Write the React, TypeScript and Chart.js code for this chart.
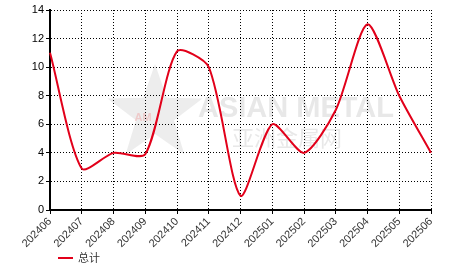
import React, { useEffect, useRef } from 'react';
import { Chart, registerables } from 'chart.js';

Chart.register(...registerables);

const categories = ['202406', '202407', '202408', '202409', '202410', '202411', '202412', '202501', '202502', '202503', '202504', '202505', '202506'];
const totals = [11, 2.9, 4, 3.9, 11.1, 10, 1, 6, 4, 7, 13, 8, 4];
const seriesName = '总计';
const yMin = 0;
const yMax = 14;
const yStep = 2;
const watermarkEn = 'ASIAN METAL';
const watermarkZh = '亚洲金属网';

const RED = 'rgb(226,0,26)';
const FONT = "'Liberation Sans', Arial, sans-serif";

const watermarkPlugin = {
  id: 'watermark',
  beforeDraw(chart: any) {
    const ctx = chart.ctx;
    ctx.save();
    const cx = 155, cy = 114, R = 50, r = 20;
    ctx.beginPath();
    for (let i = 0; i < 10; i++) {
      const ang = -Math.PI / 2 + (i * Math.PI) / 5;
      const rad = i % 2 === 0 ? R : r;
      const px = cx + rad * Math.cos(ang);
      const py = cy + rad * Math.sin(ang);
      if (i === 0) ctx.moveTo(px, py); else ctx.lineTo(px, py);
    }
    ctx.closePath();
    ctx.fillStyle = 'rgba(215,215,215,0.45)';
    ctx.fill();
    ctx.fillStyle = 'rgba(240,150,150,0.4)';
    ctx.font = `bold 11px ${FONT}`;
    ctx.textAlign = 'center';
    ctx.textBaseline = 'middle';
    ctx.fillText('AM', cx - 12, cy + 4);
    ctx.fillStyle = 'rgba(205,205,205,0.45)';
    ctx.font = `bold 29px ${FONT}`;
    ctx.textAlign = 'left';
    ctx.textBaseline = 'alphabetic';
    ctx.fillText(watermarkEn, 198, 117);
    ctx.font = `22px 'Noto Sans CJK SC', sans-serif`;
    ctx.fillText(watermarkZh, 232, 146);
    ctx.restore();
  },
};

const legendPlugin = {
  id: 'customLegend',
  afterDraw(chart: any) {
    const ctx = chart.ctx;
    const ds = chart.data.datasets[0];
    ctx.save();
    ctx.strokeStyle = ds.borderColor;
    ctx.lineWidth = 2;
    ctx.beginPath();
    ctx.moveTo(58, 258);
    ctx.lineTo(73, 258);
    ctx.stroke();
    ctx.fillStyle = '#333';
    ctx.font = `11px 'Noto Sans CJK SC', sans-serif`;
    ctx.textBaseline = 'middle';
    ctx.textAlign = 'left';
    ctx.fillText(ds.label, 78, 258);
    ctx.restore();
  },
};

export default function App() {
  const ref = useRef<HTMLCanvasElement>(null);
  useEffect(() => {
    document.body.style.margin = '0';
    const chart = new Chart(ref.current as HTMLCanvasElement, {
      type: 'line',
      data: {
        labels: categories,
        datasets: [
          {
            label: seriesName,
            data: totals,
            borderColor: RED,
            backgroundColor: RED,
            borderWidth: 2,
            pointRadius: 0,
            tension: 0.25,
            fill: false,
          },
        ],
      },
      options: {
        responsive: false,
        animation: false,
        devicePixelRatio: 1,
        layout: { padding: { top: 10, right: 35, left: 0, bottom: 0 } },
        plugins: { legend: { display: false }, tooltip: { enabled: false } },
        scales: {
          x: {
            type: 'category',
            offset: false,
            afterFit: (s: any) => { s.height = 62; },
            grid: {
              color: '#000',
              lineWidth: 1,
              drawTicks: true,
              tickLength: 4,
              tickColor: '#000',
              tickWidth: 1,
              tickBorderDash: [],
            },
            border: { display: true, color: '#000', width: 2, dash: [1, 2] },
            ticks: {
              autoSkip: false,
              maxRotation: 45,
              minRotation: 45,
              padding: 1,
              color: '#333',
              font: { family: FONT, size: 11 },
            },
          },
          y: {
            min: yMin,
            max: yMax,
            afterFit: (s: any) => { s.width = 50; },
            grid: {
              color: '#000',
              lineWidth: 1,
              drawTicks: true,
              tickLength: 4,
              tickColor: '#000',
              tickWidth: 1,
              tickBorderDash: [],
            },
            border: { display: true, color: '#000', width: 2, dash: [1, 2] },
            ticks: {
              stepSize: yStep,
              padding: 2,
              color: '#000',
              font: { family: FONT, size: 11 },
            },
          },
        },
      },
      plugins: [watermarkPlugin, legendPlugin],
    });
    return () => chart.destroy();
  }, []);
  return <canvas ref={ref} width={466} height={272} style={{ display: 'block' }} />;
}
